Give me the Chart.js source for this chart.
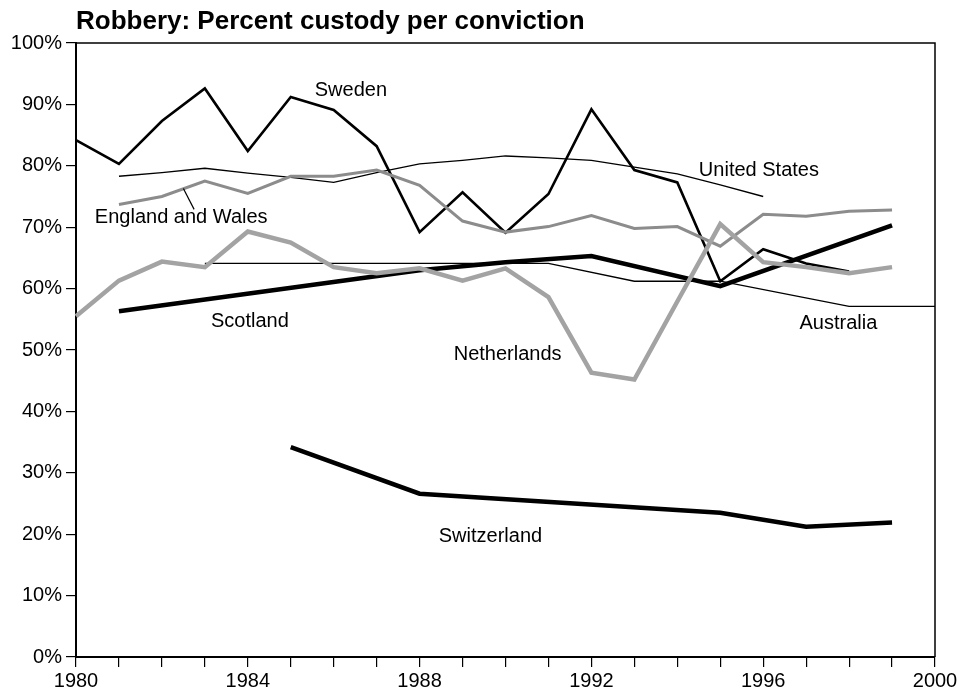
<!DOCTYPE html>
<html>
<head>
<meta charset="utf-8">
<script src="https://cdn.jsdelivr.net/npm/chart.js@4/dist/chart.umd.min.js"></script>
<style>
  html, body { margin: 0; padding: 0; background: #fff; }
  #wrap { width: 972px; height: 694px; position: relative; }
</style>
</head>
<body>
<div id="wrap"><canvas id="robberyChart" width="972" height="694"></canvas></div>
<script>
// years on the x axis
const years = [1980, 1981, 1982, 1983, 1984, 1985, 1986, 1987, 1988, 1989, 1990,
               1991, 1992, 1993, 1994, 1995, 1996, 1997, 1998, 1999, 2000];

// percent custody per conviction (null = no point)
const sweden      = [84.2, 80.3, 87.3, 92.6, 82.4, 91.2, 89.1, 83.2, 69.2, 75.7, 69.1, 75.4, 89.2, 79.3, 77.3, 61.2, 66.4, 64.1, 62.8, null, null];
const unitedStates = [null, 78.3, 78.9, 79.6, 78.8, 78.1, 77.3, 78.9, 80.3, 80.9, 81.6, 81.3, 80.9, 79.8, 78.7, 76.9, 75.0, null, null, null, null];
const englandWales = [null, 73.7, 75.0, 77.5, 75.5, 78.3, 78.3, 79.3, 76.8, 71.0, 69.2, 70.1, 71.9, 69.8, 70.1, 66.9, 72.1, 71.8, 72.6, 72.8, null];
const netherlands  = [55.5, 61.3, 64.4, 63.5, 69.3, 67.5, 63.5, 62.5, 63.3, 61.3, 63.3, 58.6, 46.3, 45.2, 57.9, 70.5, 64.3, 63.5, 62.5, 63.5, null];
const scotland     = [null, 56.3, null, null, null, null, null, null, 63.0, null, 64.3, null, 65.3, null, null, 60.4, null, null, null, 70.3, null];
const australia    = [null, null, null, 64.1, null, null, null, null, null, null, null, 64.1, null, 61.2, null, 61.2, null, null, 57.1, null, 57.1];
const switzerland  = [null, null, null, null, null, 34.2, null, null, 26.6, null, null, null, null, null, null, 23.5, null, 21.2, null, 21.9, null];

const yTicks = [0, 10, 20, 30, 40, 50, 60, 70, 80, 90, 100];
const labeledYears = [1980, 1984, 1988, 1992, 1996, 2000];

const FONT = "'Liberation Sans', Arial, Helvetica, sans-serif";

// series name labels placed in data coordinates [text, year, percent]
const seriesLabels = [
    ['Sweden', 1986.4, 92.3],
    ['United States', 1995.9, 79.3],
    ['England and Wales', 1982.45, 71.6],
    ['Scotland', 1984.05, 54.6],
    ['Netherlands', 1990.05, 49.25],
    ['Australia', 1997.75, 54.3],
    ['Switzerland', 1989.65, 19.6]
];

function series(label, data, color, width) {
    return {
        label: label,
        data: data,
        borderColor: color,
        backgroundColor: color,
        borderWidth: width,
        pointRadius: 0,
        pointHoverRadius: 0,
        tension: 0,
        spanGaps: true,
        fill: false
    };
}

const frameAndText = {
    id: 'frameAndText',
    afterDatasetsDraw(chart) {
        const ctx = chart.ctx;
        const area = chart.chartArea;
        const xs = chart.scales.x;
        const ys = chart.scales.y;
        const px = yr => xs.getPixelForValue(yr - 1980);

        ctx.save();
        // top and right frame
        ctx.strokeStyle = '#000';
        ctx.lineWidth = 1.5;
        ctx.beginPath();
        ctx.moveTo(area.left, area.top);
        ctx.lineTo(area.right, area.top);
        ctx.lineTo(area.right, area.bottom);
        ctx.stroke();

        // title
        ctx.fillStyle = '#000';
        ctx.font = 'bold 26px ' + FONT;
        ctx.textAlign = 'left';
        ctx.textBaseline = 'alphabetic';
        ctx.fillText('Robbery: Percent custody per conviction', area.left, 29);

        // series labels
        ctx.font = '20px ' + FONT;
        ctx.textAlign = 'center';
        ctx.textBaseline = 'middle';
        seriesLabels.forEach(([text, yr, pct]) => {
            ctx.fillText(text, px(yr), ys.getPixelForValue(pct));
        });

        // leader line for England and Wales
        ctx.lineWidth = 1.2;
        ctx.beginPath();
        ctx.moveTo(px(1982.5), ys.getPixelForValue(76.3));
        ctx.lineTo(px(1982.75), ys.getPixelForValue(72.9));
        ctx.stroke();
        ctx.restore();
    }
};

new Chart(document.getElementById('robberyChart'), {
    type: 'line',
    data: {
        labels: years,
        datasets: [
            series('Netherlands', netherlands, '#a3a3a3', 4.5),
            series('England and Wales', englandWales, '#8c8c8c', 3),
            series('United States', unitedStates, '#000', 1.3),
            series('Australia', australia, '#000', 1.3),
            series('Sweden', sweden, '#000', 2.6),
            series('Scotland', scotland, '#000', 4.5),
            series('Switzerland', switzerland, '#000', 4.5)
        ]
    },
    options: {
        responsive: false,
        animation: false,
        events: [],
        layout: { padding: { top: 43, right: 37, left: 0, bottom: 0 } },
        plugins: {
            legend: { display: false },
            title: { display: false },
            tooltip: { enabled: false }
        },
        scales: {
            x: {
                type: 'category',
                offset: false,
                grid: { drawOnChartArea: false, drawTicks: true, tickLength: 10, color: '#000', lineWidth: 1.2 },
                border: { display: true, color: '#000', width: 2 },
                ticks: {
                    autoSkip: false,
                    maxRotation: 0,
                    padding: 2,
                    color: '#000',
                    font: { family: FONT, size: 20 },
                    callback: (val, i) => labeledYears.includes(years[i]) ? String(years[i]) : ''
                },
                afterFit: scale => { scale.height = 37; }
            },
            y: {
                min: 0,
                max: 100,
                afterBuildTicks: scale => { scale.ticks = yTicks.map(v => ({ value: v })); },
                grid: { drawOnChartArea: false, drawTicks: true, tickLength: 10, color: '#000', lineWidth: 1.2 },
                border: { display: true, color: '#000', width: 2 },
                ticks: {
                    padding: 4,
                    color: '#000',
                    font: { family: FONT, size: 20 },
                    callback: v => v + '%'
                },
                afterFit: scale => { scale.width = 76; }
            }
        }
    },
    plugins: [frameAndText]
});
</script>
</body>
</html>
